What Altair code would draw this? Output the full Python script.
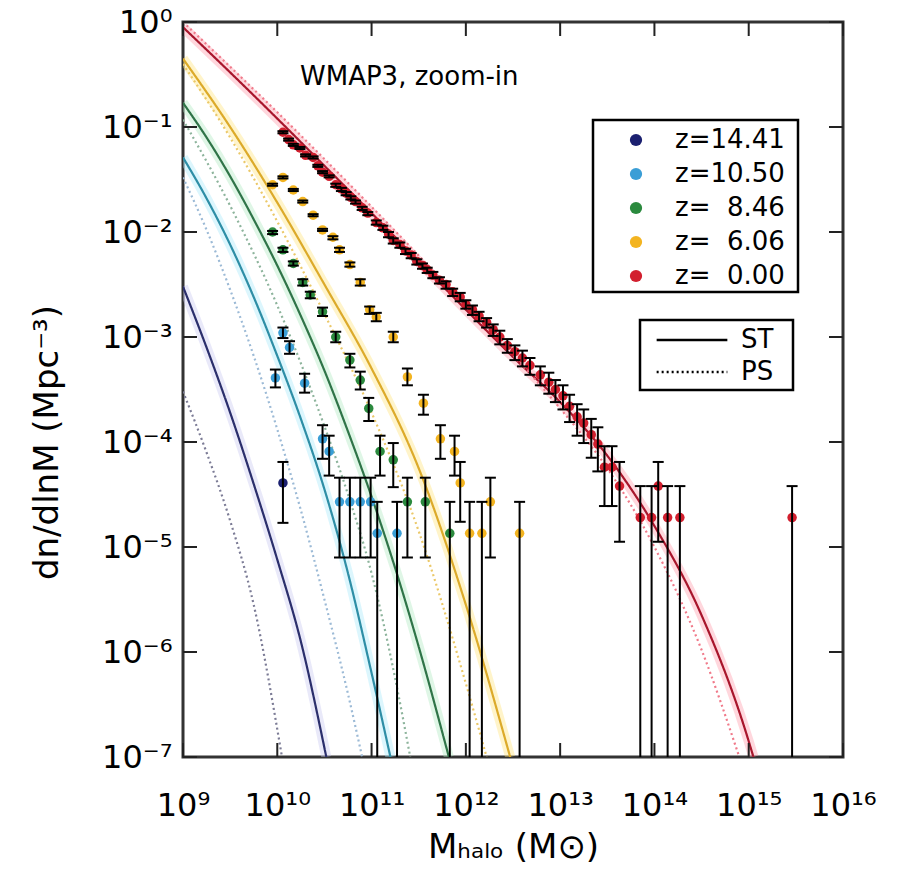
import json
import altair as alt
import pandas as pd

# ---------------- data (log10 units) ----------------
z_labels = ["z=14.41", "z=10.50", "z=\u20078.46", "z=\u20076.06", "z=\u20070.00"]
point_colors = ["#1b2070", "#3a9ed6", "#2b8a3e", "#f3b420", "#d21f2e"]
st_colors = ["#2b2f6c", "#2e8ea6", "#2f7448", "#dcaa2a", "#a8162c"]
ps_colors = ["#7c7c96", "#9cbad6", "#8db49c", "#ebc868", "#f07a8a"]
glow_colors = ["#c8c8f0", "#a8e8fa", "#b0e8c0", "#ffe47a", "#ff9aaa"]

x_ticks = [9, 10, 11, 12, 13, 14, 15, 16]
y_ticks = [-7, -6, -5, -4, -3, -2, -1, 0]
x_tick_labels = ["10⁹", "10¹⁰", "10¹¹", "10¹²", "10¹³", "10¹⁴", "10¹⁵", "10¹⁶"]
y_tick_labels = ["10⁻⁷", "10⁻⁶", "10⁻⁵", "10⁻⁴", "10⁻³", "10⁻²", "10⁻¹", "10⁰"]

# Sheth-Tormen (solid) and Press-Schechter (dotted) curves
st_navy_m = [9.0, 9.25, 9.5, 9.75, 10.0, 10.25, 10.52]
st_navy_n = [-2.52, -3.10, -3.72, -4.40, -5.12, -5.90, -7.0]
ps_navy_m = [9.0, 9.25, 9.5, 9.75, 10.05]
ps_navy_n = [-3.52, -4.10, -4.75, -5.55, -7.0]

st_lb_m = [9.0, 9.25, 9.5, 9.75, 10.0, 10.25, 10.5, 10.75, 11.0, 11.2]
st_lb_n = [-1.29, -1.68, -2.12, -2.62, -3.18, -3.78, -4.45, -5.25, -6.2, -7.0]
ps_lb_m = [9.0, 9.25, 9.5, 9.75, 10.0, 10.25, 10.5, 10.75, 10.9]
ps_lb_n = [-1.48, -1.98, -2.55, -3.18, -3.88, -4.65, -5.5, -6.4, -7.0]

st_green_m = [9.0, 9.25, 9.5, 9.75, 10.0, 10.25, 10.5, 10.75, 11.0, 11.25, 11.5, 11.82]
st_green_n = [-0.77, -1.10, -1.47, -1.88, -2.32, -2.80, -3.32, -3.90, -4.52, -5.20, -5.95, -7.0]
ps_green_m = [9.0, 9.5, 10.0, 10.5, 10.75, 11.0, 11.25, 11.41]
ps_green_n = [-0.93, -1.75, -2.70, -3.85, -4.50, -5.25, -6.25, -7.0]

st_yellow_m = [9.0, 9.5, 10.0, 10.5, 11.0, 11.5, 12.0, 12.47]
st_yellow_n = [-0.35, -1.0, -1.72, -2.50, -3.30, -4.25, -5.55, -7.0]
ps_yellow_m = [9.0, 9.5, 10.0, 10.5, 11.0, 11.5, 12.0, 12.22]
ps_yellow_n = [-0.40, -1.10, -1.90, -2.78, -3.72, -4.85, -6.30, -7.0]

st_red_m = [9.0, 9.5, 10.0, 10.5, 11.0, 11.5, 12.0, 12.5, 13.0, 13.5, 14.0, 14.5, 15.0, 15.05]
st_red_n = [-0.05, -0.48, -0.92, -1.37, -1.82, -2.28, -2.74, -3.19, -3.62, -4.13, -4.80, -5.65, -6.85, -7.0]
ps_red_m = [9.0, 10.0, 11.0, 12.0, 13.0, 13.5, 14.0, 14.5, 14.9]
ps_red_n = [0.0, -0.86, -1.76, -2.70, -3.68, -4.25, -5.0, -5.98, -7.0]

# simulation points with error bar ends
navy_m = [10.06]
navy_n = [-4.39]
navy_lo = [-4.77]
navy_hi = [-4.19]

lb_m = [9.98, 10.06, 10.13, 10.29, 10.48, 10.55, 10.66, 10.77, 10.88, 10.99, 11.06, 11.27]
lb_n = [-3.39, -2.96, -3.10, -3.44, -3.97, -4.09, -4.57, -4.57, -4.57, -4.57, -4.87, -4.87]
lb_lo = [-3.48, -3.01, -3.16, -3.53, -4.16, -4.32, -5.10, -5.10, -5.10, -5.10, -9.0, -9.0]
lb_hi = [-3.31, -2.91, -3.04, -3.35, -3.84, -3.94, -4.34, -4.34, -4.34, -4.34, -4.57, -4.57]

green_m = [9.95, 10.06, 10.17, 10.27, 10.35, 10.48, 10.62, 10.77, 10.88, 10.97, 11.09, 11.23, 11.38, 11.57, 11.83]
green_n = [-2.00, -2.17, -2.30, -2.48, -2.60, -2.76, -3.00, -3.22, -3.41, -3.68, -4.09, -4.17, -4.57, -4.57, -4.87]
green_lo = [-2.02, -2.19, -2.32, -2.51, -2.63, -2.80, -3.05, -3.29, -3.50, -3.80, -4.32, -4.43, -5.10, -5.10, -9.0]
green_hi = [-1.99, -2.15, -2.28, -2.45, -2.57, -2.72, -2.95, -3.16, -3.33, -3.58, -3.94, -4.01, -4.34, -4.34, -4.57]

yellow_m = [9.95, 10.06, 10.17, 10.27, 10.38, 10.48, 10.59, 10.66, 10.77, 10.88, 10.98, 11.05,
            11.23, 11.38, 11.55, 11.73, 11.88, 11.94, 12.04, 12.17, 12.26, 12.57]
yellow_n = [-1.55, -1.48, -1.60, -1.71, -1.84, -1.98, -2.05, -2.17, -2.31, -2.48, -2.74, -2.81,
            -3.00, -3.38, -3.63, -3.97, -4.09, -4.39, -4.87, -4.87, -4.57, -4.87]
yellow_lo = [-1.56, -1.49, -1.61, -1.72, -1.85, -1.99, -2.07, -2.19, -2.33, -2.51, -2.78, -2.85,
             -3.05, -3.46, -3.74, -4.16, -4.32, -4.76, -9.0, -9.0, -5.10, -9.0]
yellow_hi = [-1.54, -1.47, -1.59, -1.70, -1.83, -1.97, -2.04, -2.15, -2.29, -2.45, -2.71, -2.77,
             -2.95, -3.30, -3.55, -3.84, -3.94, -4.19, -4.57, -4.57, -4.34, -4.57]

red_m = [10.06, 10.12, 10.17, 10.24, 10.30, 10.38, 10.43, 10.48, 10.55, 10.62, 10.68, 10.73,
         10.78, 10.83, 10.90, 10.96, 11.05, 11.12, 11.18, 11.23, 11.30, 11.36, 11.42, 11.48,
         11.54, 11.59, 11.65, 11.72, 11.79, 11.86, 11.94, 12.00, 12.07, 12.14, 12.22, 12.29,
         12.36, 12.44, 12.52, 12.60, 12.68, 12.79, 12.88, 12.95, 13.03, 13.10, 13.18, 13.25,
         13.33, 13.40, 13.47, 13.55, 13.63, 13.85, 13.97, 14.04, 14.14, 14.27, 15.46]
red_n = [-1.05, -1.12, -1.17, -1.20, -1.27, -1.29, -1.37, -1.43, -1.47, -1.55, -1.59, -1.63,
         -1.67, -1.71, -1.77, -1.82, -1.91, -1.96, -2.02, -2.08, -2.12, -2.18, -2.22, -2.28,
         -2.32, -2.36, -2.41, -2.46, -2.50, -2.57, -2.62, -2.69, -2.74, -2.80, -2.86, -2.93,
         -3.00, -3.08, -3.14, -3.20, -3.27, -3.36, -3.43, -3.50, -3.56, -3.66, -3.76, -3.82,
         -3.93, -4.02, -4.24, -4.24, -4.42, -4.72, -4.72, -4.42, -4.72, -4.72, -4.72]
red_lo = [-1.06, -1.13, -1.18, -1.21, -1.28, -1.30, -1.38, -1.44, -1.48, -1.57, -1.61, -1.65,
          -1.69, -1.73, -1.79, -1.84, -1.93, -1.98, -2.05, -2.11, -2.15, -2.21, -2.25, -2.31,
          -2.35, -2.39, -2.44, -2.49, -2.54, -2.61, -2.66, -2.73, -2.79, -2.85, -2.91, -2.99,
          -3.07, -3.15, -3.22, -3.28, -3.36, -3.46, -3.54, -3.62, -3.69, -3.81, -3.94, -4.01,
          -4.15, -4.28, -4.61, -4.61, -4.95, -9.0, -9.0, -4.95, -9.0, -9.0, -9.0]
red_hi = [-1.04, -1.11, -1.16, -1.19, -1.26, -1.28, -1.36, -1.42, -1.46, -1.54, -1.58, -1.62,
          -1.66, -1.70, -1.76, -1.81, -1.89, -1.94, -2.00, -2.06, -2.10, -2.16, -2.20, -2.26,
          -2.30, -2.34, -2.38, -2.43, -2.47, -2.54, -2.58, -2.65, -2.70, -2.76, -2.82, -2.88,
          -2.94, -3.02, -3.08, -3.13, -3.20, -3.28, -3.34, -3.41, -3.46, -3.55, -3.64, -3.69,
          -3.78, -3.86, -4.04, -4.04, -4.19, -4.42, -4.42, -4.19, -4.42, -4.42, -4.42]

# ---------------- tables ----------------
models = ["ST", "PS"]
curves = [
    (st_navy_m, st_navy_n, ps_navy_m, ps_navy_n),
    (st_lb_m, st_lb_n, ps_lb_m, ps_lb_n),
    (st_green_m, st_green_n, ps_green_m, ps_green_n),
    (st_yellow_m, st_yellow_n, ps_yellow_m, ps_yellow_n),
    (st_red_m, st_red_n, ps_red_m, ps_red_n),
]
rows = []
for z, (sm, sn, pm, pn) in zip(z_labels, curves):
    for m, n in zip(sm, sn):
        rows.append({"m": m, "n": n, "z": z, "model": "ST", "key": z + "|ST"})
    for m, n in zip(pm, pn):
        rows.append({"m": m, "n": n, "z": z, "model": "PS", "key": z + "|PS"})
lines_df = pd.DataFrame(rows)

line_keys, line_colors = [], []
for z, sc, pc in zip(z_labels, st_colors, ps_colors):
    line_keys += [z + "|ST", z + "|PS"]
    line_colors += [sc, pc]

pts = []
series = [
    (navy_m, navy_n, navy_lo, navy_hi),
    (lb_m, lb_n, lb_lo, lb_hi),
    (green_m, green_n, green_lo, green_hi),
    (yellow_m, yellow_n, yellow_lo, yellow_hi),
    (red_m, red_n, red_lo, red_hi),
]
for z, (ms, ns, los, his) in zip(z_labels, series):
    for m, n, lo, hi in zip(ms, ns, los, his):
        pts.append({"m": m, "n": n, "lo": lo, "hi": hi, "z": z})
pts_df = pd.DataFrame(pts)

FONT = "DejaVu Sans"
x_expr = json.dumps(x_tick_labels, ensure_ascii=False) + "[datum.value - 9]"
y_expr = json.dumps(y_tick_labels, ensure_ascii=False) + "[datum.value + 7]"

xscale = alt.Scale(domain=[9, 16], nice=False, zero=False)
yscale = alt.Scale(domain=[-7, 0], nice=False, zero=False)
xaxis = alt.Axis(values=x_ticks, labelExpr=x_expr, ticks=False, tickSize=0, domain=False, grid=False,
                 labelFont=FONT, labelFontSize=32, labelColor="black", labelFlush=False,
                 labelOverlap=False, labelBaseline="alphabetic", labelPadding=58,
                 titleFont=FONT, titleFontSize=34, titleFontWeight="normal", titleColor="black",
                 titleBaseline="alphabetic", titleY=100)
yaxis = alt.Axis(values=y_ticks, labelExpr=y_expr, ticks=False, tickSize=0, domain=False, grid=False,
                 labelFont=FONT, labelFontSize=32, labelColor="black", labelFlush=False,
                 labelOverlap=False, labelPadding=11,
                 titleFont=FONT, titleFontSize=34, titleFontWeight="normal", titleColor="black",
                 titleBaseline="alphabetic", titleX=-126, titleY=420)
x_title = "Mₕₐₗₒ (M⊙)"
y_title = "dn/dlnM (Mpc⁻³)"

X = alt.X("m:Q", scale=xscale, axis=xaxis, title=x_title)
Y = alt.Y("n:Q", scale=yscale, axis=yaxis, title=y_title)

# soft halo under each ST curve, one layer per redshift
glows = []
for z, gc in zip(z_labels, glow_colors):
    glows.append(
        alt.Chart(lines_df).transform_filter(alt.datum.key == z + "|ST")
        .mark_line(strokeWidth=10, opacity=0.4, clip=True, interpolate="monotone", color=gc)
        .encode(x=X, y=Y)
    )

lines = alt.Chart(lines_df).mark_line(strokeWidth=2.2, clip=True, interpolate="monotone").encode(
    x=X, y=Y,
    stroke=alt.Stroke("key:N", scale=alt.Scale(domain=line_keys, range=line_colors), legend=None),
    strokeDash=alt.StrokeDash(
        "model:N", scale=alt.Scale(domain=models, range=[[1, 0], [2, 3]]),
        legend=alt.Legend(title=None, orient="none", legendX=496, legendY=305, direction="vertical",
                          padding=0, rowPadding=6, symbolType="M-5,0H5", symbolSize=200,
                          symbolStrokeColor="black", symbolStrokeWidth=2.5,
                          labelFont=FONT, labelFontSize=26, labelColor="black", labelOffset=36),
    ),
    detail="key:N",
)

points = alt.Chart(pts_df).mark_circle(size=90, opacity=1, clip=True).encode(
    x=X, y=Y,
    color=alt.Color("z:N", scale=alt.Scale(domain=z_labels, range=point_colors),
                    legend=alt.Legend(title=None, orient="none", legendX=440, legendY=105,
                                      direction="vertical", padding=0, rowPadding=8,
                                      symbolType="circle", symbolSize=150, symbolStrokeWidth=0,
                                      symbolOpacity=1,
                                      labelFont=FONT, labelFontSize=26, labelColor="black",
                                      labelOffset=26)),
)

bars = alt.Chart(pts_df).mark_rule(color="black", strokeWidth=2, clip=True).encode(
    x=X, y=alt.Y("lo:Q", scale=yscale, axis=yaxis, title=y_title), y2="hi:Q"
)
cap_hi = alt.Chart(pts_df).mark_tick(orient="horizontal", size=11, thickness=2, color="black",
                                     clip=True, opacity=1).encode(
    x=X, y=alt.Y("hi:Q", scale=yscale, axis=yaxis, title=y_title)
)
cap_lo = alt.Chart(pts_df).mark_tick(orient="horizontal", size=11, thickness=2, color="black",
                                     clip=True, opacity=1).encode(
    x=X, y=alt.Y("lo:Q", scale=yscale, axis=yaxis, title=y_title)
)

xt_df = pd.DataFrame({"t": x_ticks})
yt_df = pd.DataFrame({"t": y_ticks})
XT = alt.X("t:Q", scale=xscale, axis=xaxis, title=x_title)
YT = alt.Y("t:Q", scale=yscale, axis=yaxis, title=y_title)
tick_style = dict(color="#222222", strokeWidth=2)
t_bottom = alt.Chart(xt_df).mark_rule(**tick_style).encode(x=XT, y=alt.value(735), y2=alt.value(721))
t_top = alt.Chart(xt_df).mark_rule(**tick_style).encode(x=XT, y=alt.value(0), y2=alt.value(14))
t_left = alt.Chart(yt_df).mark_rule(**tick_style).encode(y=YT, x=alt.value(0), x2=alt.value(14))
t_right = alt.Chart(yt_df).mark_rule(**tick_style).encode(y=YT, x=alt.value(660), x2=alt.value(646))

box_df = pd.DataFrame({"b": [0]})
box1 = alt.Chart(box_df).mark_rect(fill="white", stroke="black", strokeWidth=2.5).encode(
    x=alt.value(410), x2=alt.value(615), y=alt.value(98), y2=alt.value(270))
box2 = alt.Chart(box_df).mark_rect(fill="white", stroke="black", strokeWidth=2.5).encode(
    x=alt.value(457), x2=alt.value(610), y=alt.value(298), y2=alt.value(368))

title_df = pd.DataFrame({"label": ["WMAP3, zoom-in"]})
title = alt.Chart(title_df).mark_text(align="left", baseline="alphabetic", font=FONT, fontSize=26,
                                      color="black").encode(
    text="label:N", x=alt.value(117), y=alt.value(63))

chart = alt.layer(
    *glows, lines, points, bars, cap_hi, cap_lo,
    t_bottom, t_top, t_left, t_right, box1, box2, title
).properties(
    width=660, height=735,
    autosize=alt.AutoSizeParams(type="none"),
    padding={"left": 183, "top": 22, "right": 56, "bottom": 115},
    background="white",
).configure_view(stroke="#333333", strokeWidth=3)

chart.save("out.html", embed_options={"renderer": "svg", "actions": False})
